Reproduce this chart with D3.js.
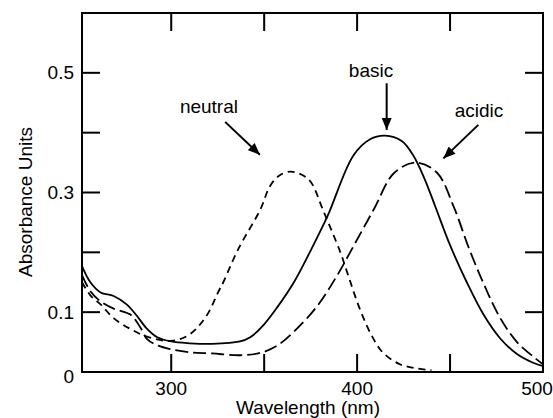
<!DOCTYPE html>
<meta charset="utf-8">
<style>

body {
  margin: 0;
  background: #fff;
}

svg {
  font: 19px "Liberation Sans", Arial, Helvetica, sans-serif;
}

.frame {
  fill: none;
  stroke: #000;
  stroke-width: 2;
}

.tick {
  stroke: #000;
  stroke-width: 2;
}

.spectrum {
  fill: none;
  stroke: #000;
  stroke-width: 1.8;
}

.arrow {
  stroke: #000;
  stroke-width: 2;
}

</style>
<body>
<script src="https://d3js.org/d3.v7.min.js"></script>
<script>

// spectra: [wavelength nm, absorbance]
var basic = [[252,0.177],[256.5,0.15],[262,0.133],[269,0.127],[276,0.113],[281.5,0.094],[287,0.072],
  [292.5,0.058],[300,0.051],[310,0.048],[322,0.047],[337,0.051],[342.5,0.058],[349.5,0.078],[357,0.108],
  [366,0.15],[375,0.203],[384,0.26],[398,0.362],[407,0.389],[415,0.395],[424,0.386],[430,0.363],
  [436,0.325],[442,0.277],[450,0.212],[459,0.15],[468,0.096],[477,0.056],[486,0.03],[495,0.015],[500,0.01]];

var acidic = [[252,0.162],[256.5,0.135],[262,0.118],[269,0.106],[278,0.096],[283.5,0.074],[287,0.055],
  [293,0.044],[300,0.038],[310,0.033],[322,0.031],[337,0.028],[348,0.032],[357,0.044],[367.5,0.072],
  [378.5,0.11],[389,0.16],[398,0.21],[409,0.272],[420,0.333],[432,0.35],[443,0.333],
  [452,0.276],[460,0.208],[468,0.148],[477,0.09],[486,0.05],[495,0.025],[500,0.013]];

var neutral = [[252,0.15],[256.5,0.128],[262,0.113],[269,0.09],[278,0.072],[287,0.059],[300,0.052],
  [310,0.063],[319,0.094],[325.5,0.135],[328,0.15],[336,0.205],[348,0.272],[353,0.31],[358,0.328],
  [364,0.335],[370,0.33],[375,0.318],[382,0.268],[391,0.2],[394.5,0.168],[401.5,0.105],[408,0.06],
  [414,0.032],[423,0.013],[432,0.006],[440,0.003]];

var xTicks = [300, 350, 400, 450];
var xLabels = [300, 400, 500];
var yTicks = [0.1, 0.2, 0.3, 0.4, 0.5];
var yLabels = [0, 0.1, 0.3, 0.5];

// annotations: label position and arrow tail -> tip, in data units
var notes = [
  {text: "neutral", lx: 320.3, ly: 0.433, x1: 329, y1: 0.418, x2: 347.7, y2: 0.363},
  {text: "basic",   lx: 407.5, ly: 0.493, x1: 415.9, y1: 0.4825, x2: 415.9, y2: 0.4045},
  {text: "acidic",  lx: 465.6, ly: 0.426, x1: 465.2, y1: 0.413, x2: 446.4, y2: 0.357}
];

var width = 553, height = 418;

var x = d3.scaleLinear().domain([252, 500]).range([82, 543]);
var y = d3.scaleLinear().domain([0, 0.6]).range([372, 13]);

var svg = d3.select("body").append("svg")
    .attr("width", width)
    .attr("height", height);

svg.append("defs").append("marker")
    .attr("id", "head")
    .attr("markerUnits", "userSpaceOnUse")
    .attr("viewBox", "0 0 12 10")
    .attr("refX", 12)
    .attr("refY", 5)
    .attr("markerWidth", 13)
    .attr("markerHeight", 10)
    .attr("orient", "auto")
  .append("path")
    .attr("d", "M0,0L12,5L0,10Z")
    .attr("fill", "#000");

var line = d3.line()
    .x(function(d) { return x(d[0]); })
    .y(function(d) { return y(d[1]); })
    .curve(d3.curveCatmullRom.alpha(0.5));

svg.append("path").datum(neutral)
    .attr("class", "spectrum")
    .attr("stroke-dasharray", "7,5")
    .attr("d", line);

svg.append("path").datum(acidic)
    .attr("class", "spectrum")
    .attr("stroke-dasharray", "13,5")
    .attr("d", line);

svg.append("path").datum(basic)
    .attr("class", "spectrum")
    .attr("d", line);

// inward ticks on all four sides
var tl = 18;
xTicks.forEach(function(t) {
  svg.append("line").attr("class", "tick")
      .attr("x1", x(t)).attr("x2", x(t)).attr("y1", y(0)).attr("y2", y(0) - tl);
  svg.append("line").attr("class", "tick")
      .attr("x1", x(t)).attr("x2", x(t)).attr("y1", y(0.6)).attr("y2", y(0.6) + tl);
});
yTicks.forEach(function(t) {
  svg.append("line").attr("class", "tick")
      .attr("x1", x(252)).attr("x2", x(252) + tl).attr("y1", y(t)).attr("y2", y(t));
  svg.append("line").attr("class", "tick")
      .attr("x1", x(500)).attr("x2", x(500) - tl).attr("y1", y(t)).attr("y2", y(t));
});

svg.append("rect")
    .attr("class", "frame")
    .attr("x", x(252))
    .attr("y", y(0.6))
    .attr("width", x(500) - x(252))
    .attr("height", y(0) - y(0.6));

svg.selectAll(".xlab")
    .data(xLabels)
  .enter().append("text")
    .attr("class", "xlab")
    .attr("x", function(d) { return x(d) - (d === 500 ? 6 : 0); })
    .attr("y", 395)
    .attr("text-anchor", "middle")
    .text(function(d) { return d; });

svg.selectAll(".ylab")
    .data(yLabels)
  .enter().append("text")
    .attr("class", "ylab")
    .attr("x", 74)
    .attr("y", function(d) { return y(d) + (d === 0 ? 4 : 0); })
    .attr("dy", "0.35em")
    .attr("text-anchor", "end")
    .text(function(d) { return d; });

svg.append("text")
    .attr("x", 308)
    .attr("y", 414)
    .attr("text-anchor", "middle")
    .text("Wavelength (nm)");

svg.append("text")
    .attr("transform", "translate(32,202) rotate(-90)")
    .attr("text-anchor", "middle")
    .text("Absorbance Units");

var note = svg.selectAll(".note")
    .data(notes)
  .enter().append("g")
    .attr("class", "note");

note.append("text")
    .attr("x", function(d) { return x(d.lx); })
    .attr("y", function(d) { return y(d.ly); })
    .attr("text-anchor", "middle")
    .text(function(d) { return d.text; });

note.append("line")
    .attr("class", "arrow")
    .attr("x1", function(d) { return x(d.x1); })
    .attr("y1", function(d) { return y(d.y1); })
    .attr("x2", function(d) { return x(d.x2); })
    .attr("y2", function(d) { return y(d.y2); })
    .attr("marker-end", "url(#head)");

</script>
